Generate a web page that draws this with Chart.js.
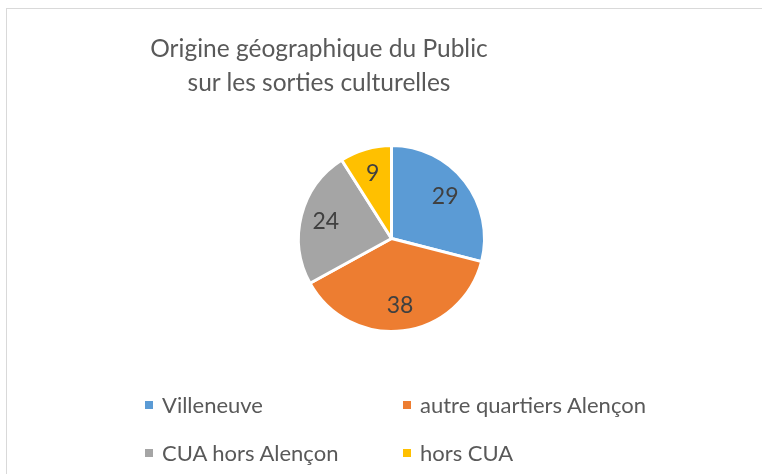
<!DOCTYPE html>
<html>
<head>
<meta charset="utf-8">
<script src="https://cdn.jsdelivr.net/npm/chart.js@4"></script>
<style>
  body { margin: 0; background: #fff; }
  #wrap { position: relative; width: 762px; height: 474px; overflow: hidden; font-family: Lato, sans-serif; color: #595959; }
  #frame { position: absolute; left: 6px; top: 8px; width: 800px; height: 520px; border: 1px solid #d9d9d9; box-sizing: border-box; }
  #chart { position: absolute; left: 0; top: 0; }
  .title { position: absolute; left: 119px; width: 400px; text-align: center; font-size: 24.5px; line-height: 34px; top: 31px; }
  .legend-item { position: absolute; font-size: 22px; line-height: 26px; white-space: nowrap; }
  .legend-item span { display: inline-block; width: 8px; height: 8px; margin-right: 9px; vertical-align: middle; position: relative; top: -2px; }
</style>
</head>
<body>
<div id="wrap">
  <div id="frame"></div>
  <canvas id="chart" width="762" height="474"></canvas>
  <div class="title" id="title"></div>
</div>
<script>
const labels = ['Villeneuve', 'autre quartiers Alençon', 'CUA hors Alençon', 'hors CUA'];
const values = [29, 38, 24, 9];
const colors = ['#5B9BD5', '#ED7D31', '#A5A5A5', '#FFC000'];
const titleLines = ['Origine géographique du Public', 'sur les sorties culturelles'];

// title
document.getElementById('title').innerHTML = titleLines.join('<br>');

// legend, two columns like the Excel one
const wrap = document.getElementById('wrap');
const legendPos = [[145, 392], [403, 392], [145, 440], [403, 440]];
labels.forEach((name, i) => {
    const item = document.createElement('div');
    item.className = 'legend-item';
    item.style.left = legendPos[i][0] + 'px';
    item.style.top = legendPos[i][1] + 'px';
    item.innerHTML = `<span style="background:${colors[i]}"></span>${name}`;
    wrap.appendChild(item);
});

// numbers inside the slices
const sliceLabels = {
    id: 'sliceLabels',
    afterDatasetsDraw(chart) {
        const ctx = chart.ctx;
        const meta = chart.getDatasetMeta(0);
        ctx.save();
        ctx.font = '23px Lato';
        ctx.fillStyle = '#404040';
        ctx.textAlign = 'center';
        ctx.textBaseline = 'middle';
        meta.data.forEach((arc, i) => {
            const p = arc.getProps(['x', 'y', 'startAngle', 'endAngle', 'outerRadius'], true);
            const mid = (p.startAngle + p.endAngle) / 2;
            const r = p.outerRadius * 0.73;
            ctx.fillText(values[i], p.x + Math.cos(mid) * r, p.y + Math.sin(mid) * r);
        });
        ctx.restore();
    }
};

const ctx = document.getElementById('chart').getContext('2d');
new Chart(ctx, {
    type: 'pie',
    data: {
        labels: labels,
        datasets: [{
            data: values,
            backgroundColor: colors,
            borderColor: '#ffffff',
            borderWidth: 3
        }]
    },
    options: {
        responsive: false,
        animation: false,
        layout: { padding: { left: 297, right: 276, top: 144, bottom: 141 } },
        plugins: {
            legend: { display: false },
            title: { display: false },
            tooltip: { enabled: false }
        }
    },
    plugins: [sliceLabels]
});
</script>
</body>
</html>
